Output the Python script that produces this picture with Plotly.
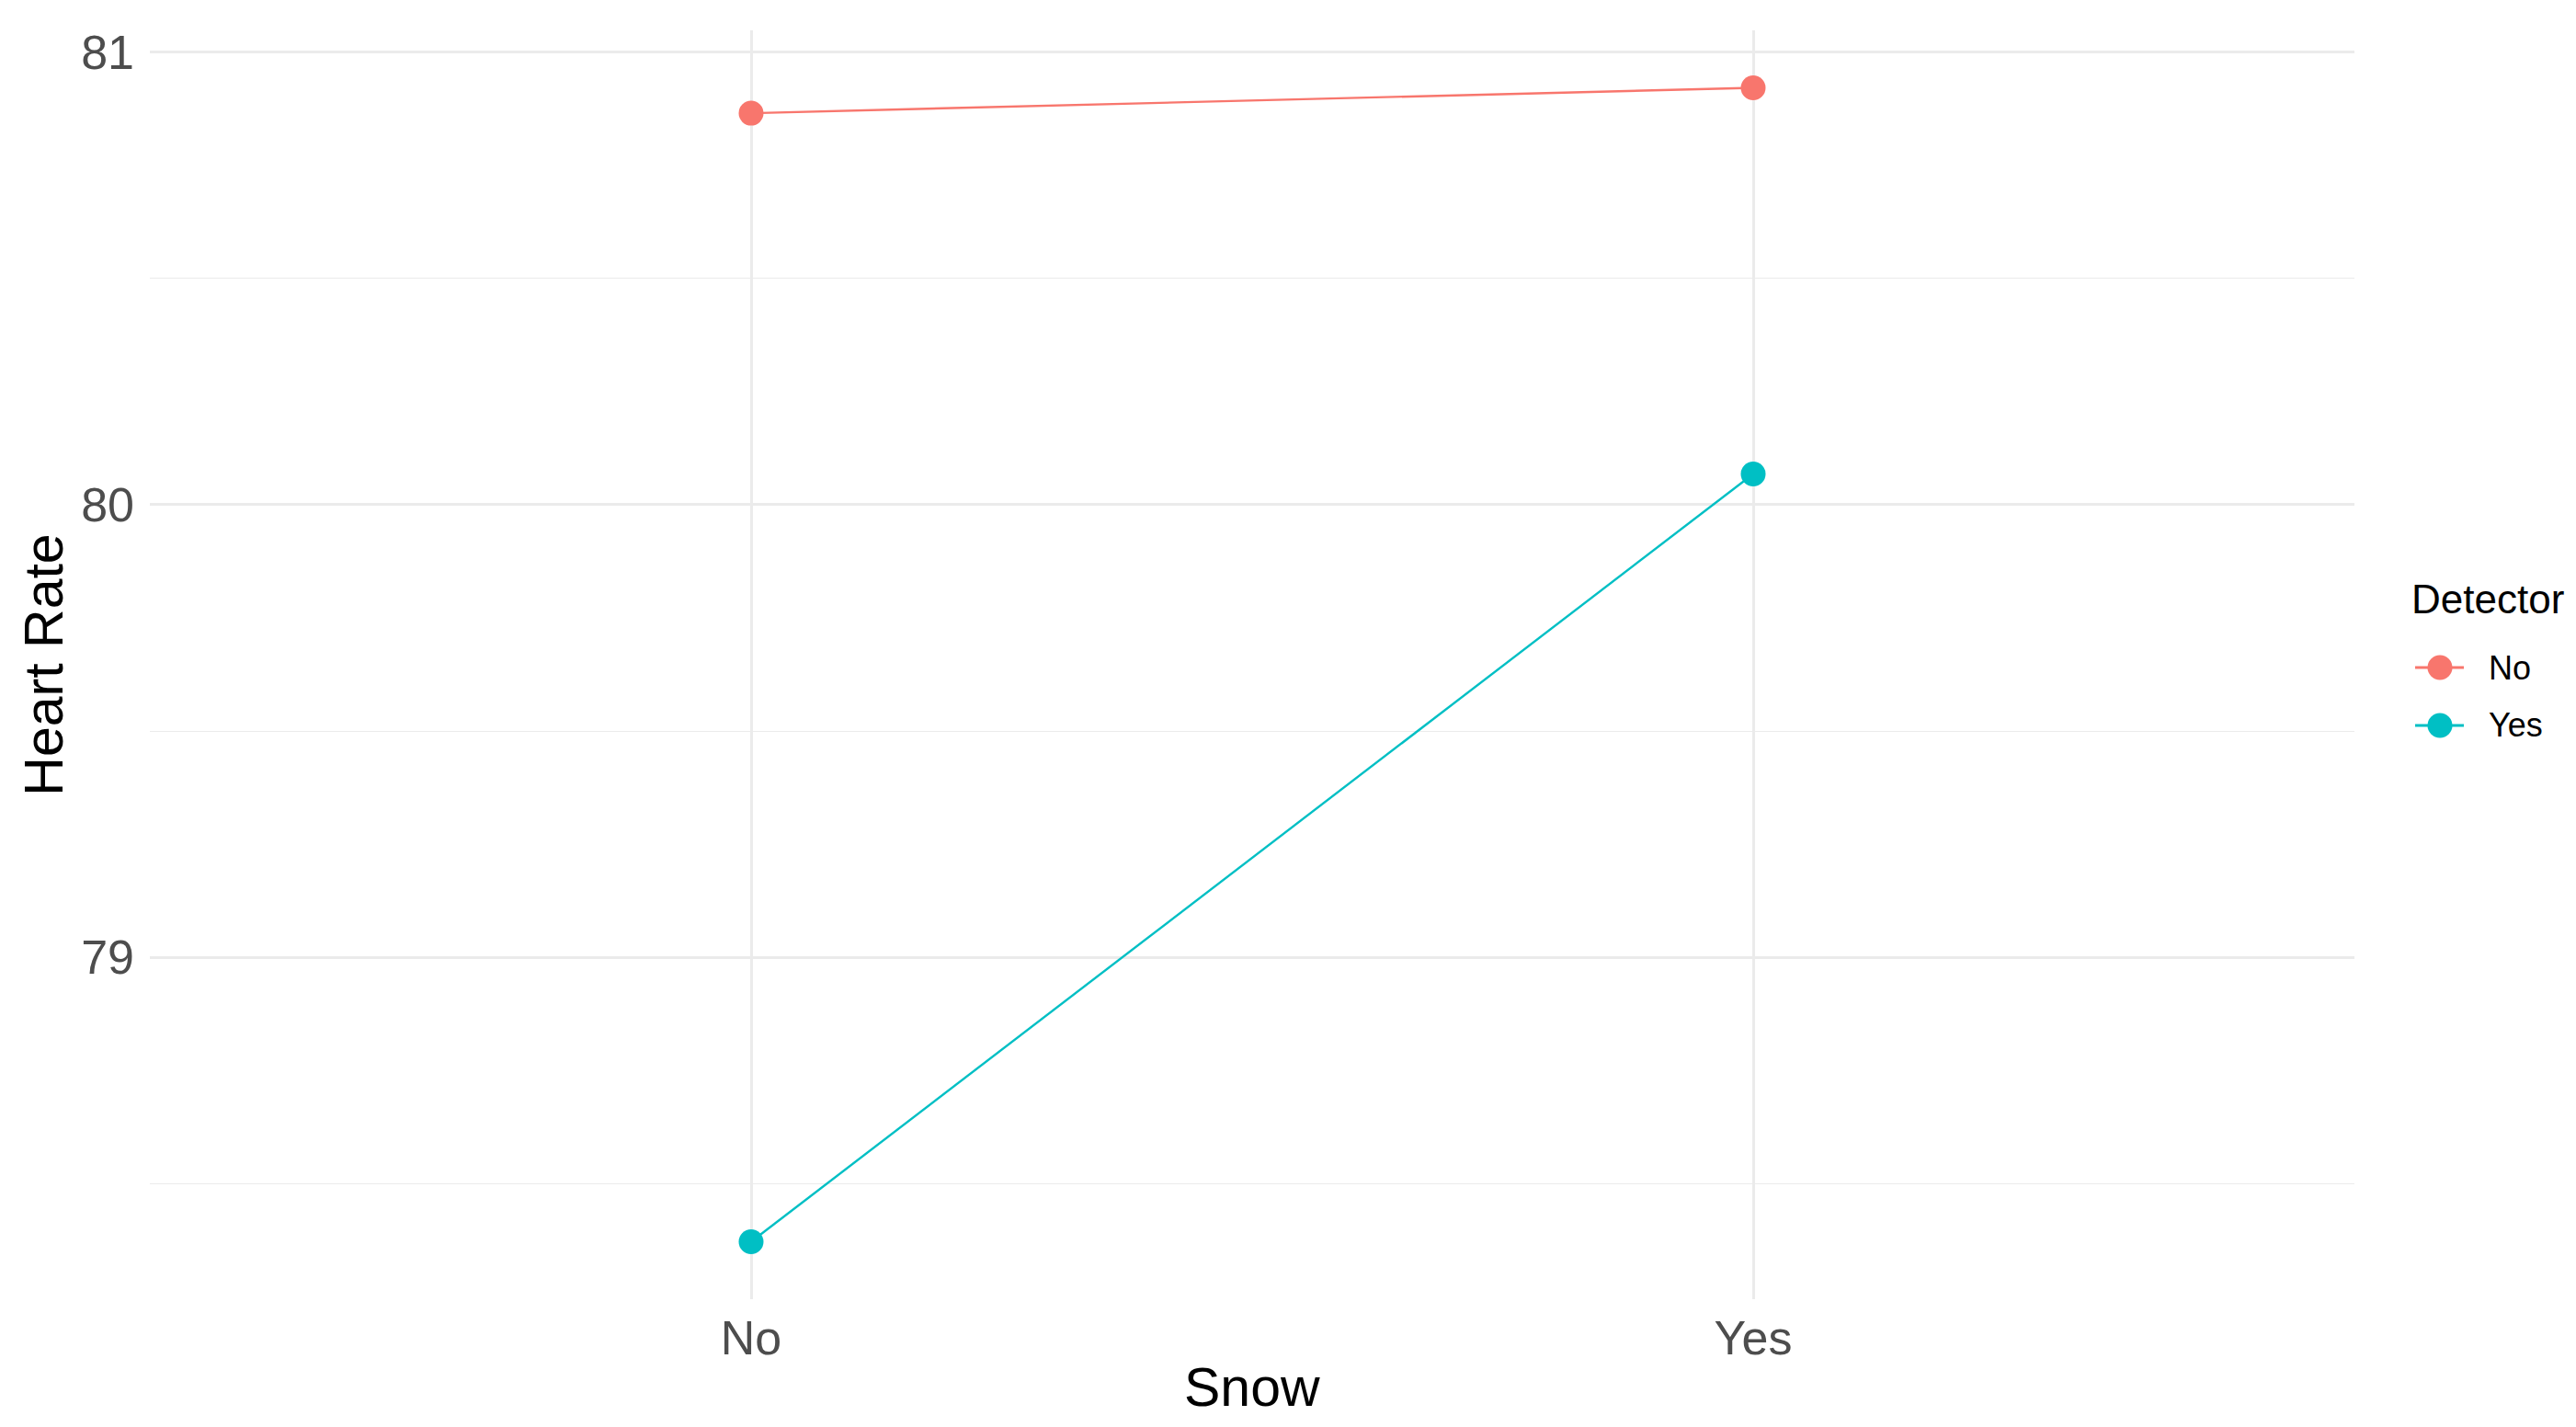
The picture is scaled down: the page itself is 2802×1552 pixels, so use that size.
import plotly.graph_objects as go

# Snow categories on the x axis
snow = ["No", "Yes"]

# Mean heart rate by detector group
detector_groups = ["No", "Yes"]
heart_rate_no_detector = [80.865, 80.921]
heart_rate_yes_detector = [78.372, 80.068]

colors = {"No": "#F8766D", "Yes": "#00BFC4"}

# figure size (page has an 8px body margin)
W, H = 2786, 1536
L, T = 155, 25
PW, PH = 2398, 1380


def px(x):
    # page-pixel x -> paper coords
    return (x - 8 - L) / PW


def py(y):
    # page-pixel y -> paper coords
    return (T + PH - (y - 8)) / PH


def main():
    fig = go.Figure()

    series = {"No": heart_rate_no_detector, "Yes": heart_rate_yes_detector}
    for grp in detector_groups:
        fig.add_trace(go.Scatter(
            x=snow,
            y=series[grp],
            name=grp,
            mode="lines+markers",
            line=dict(color=colors[grp], width=2.4),
            marker=dict(color=colors[grp], size=27),
            showlegend=False,
        ))

    # ggplot-style legend drawn by hand (plotly caps legend marker size)
    shapes = []
    annotations = [
        dict(
            text="Detector", xref="paper", yref="paper",
            x=px(2621), y=py(651), xanchor="left", yanchor="middle",
            showarrow=False, font=dict(size=44, color="black"),
        ),
        # x axis title placed directly, kept inside the bottom edge
        dict(
            text="Snow", xref="paper", yref="paper",
            x=0.5, y=py(1543), xanchor="center", yanchor="bottom",
            showarrow=False, font=dict(size=59, color="black"),
            borderpad=0,
        ),
    ]
    for i, grp in enumerate(detector_groups):
        cy = 726 + i * 63
        shapes.append(dict(
            type="line", xref="paper", yref="paper",
            x0=px(2627), x1=px(2680), y0=py(cy), y1=py(cy),
            line=dict(color=colors[grp], width=3),
        ))
        shapes.append(dict(
            type="circle", xref="paper", yref="paper",
            x0=px(2654 - 13.5), x1=px(2654 + 13.5),
            y0=py(cy + 13.5), y1=py(cy - 13.5),
            fillcolor=colors[grp], line=dict(width=0),
        ))
        annotations.append(dict(
            text=grp, xref="paper", yref="paper",
            x=px(2705), y=py(cy), xanchor="left", yanchor="middle",
            showarrow=False, font=dict(size=36, color="black"),
        ))

    grid = "#EBEBEB"
    fig.update_layout(
        width=W,
        height=H,
        margin=dict(l=L, r=W - L - PW, t=T, b=H - T - PH),
        paper_bgcolor="white",
        plot_bgcolor="white",
        font=dict(family="Liberation Sans, Arial, sans-serif", color="black"),
        showlegend=False,
        shapes=shapes,
        annotations=annotations,
    )

    fig.update_xaxes(
        type="category",
        range=[-0.6, 1.6],
        showgrid=True, gridcolor=grid, gridwidth=2.6,
        zeroline=False, showline=False, ticks="",
        tickfont=dict(size=52, color="#4D4D4D"),
        ticklabelstandoff=7,
        automargin=False,
    )

    fig.update_yaxes(
        range=[78.245, 81.048],
        tick0=78, dtick=1,
        showgrid=True, gridcolor=grid, gridwidth=2.6,
        minor=dict(dtick=0.5, tick0=78, showgrid=True, gridcolor=grid, gridwidth=1.4),
        zeroline=False, showline=False, ticks="",
        tickfont=dict(size=52, color="#4D4D4D"),
        ticklabelstandoff=16,
        title=dict(text="Heart Rate", font=dict(size=59, color="black"), standoff=0),
        automargin=False,
    )

    fig.write_html("out.html")


if __name__ == "__main__":
    main()
